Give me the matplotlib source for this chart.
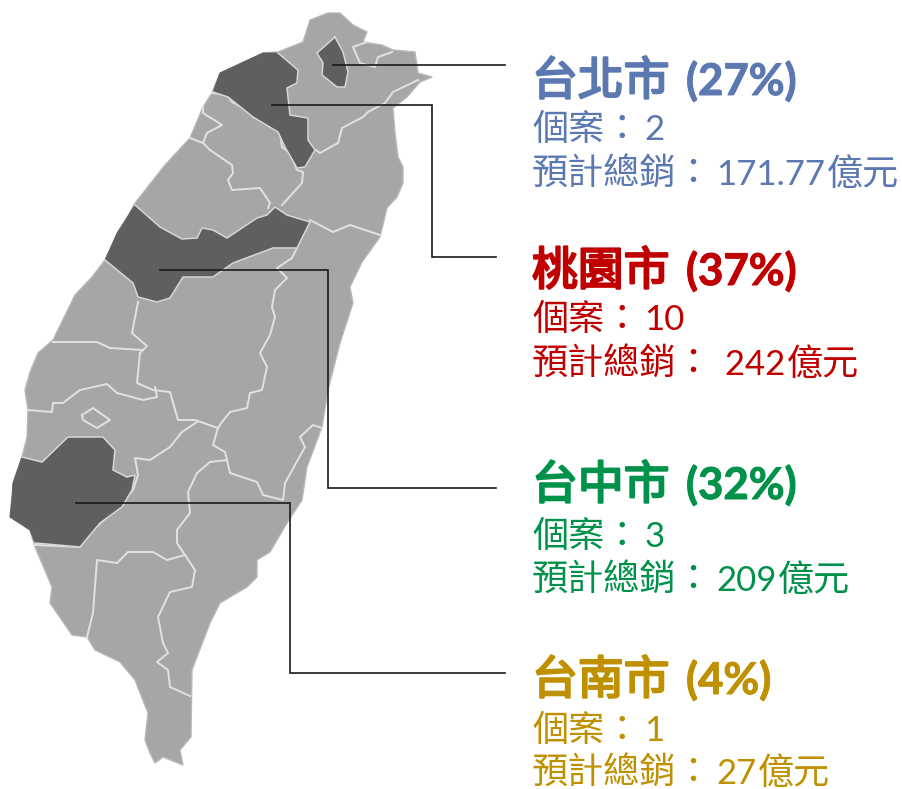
import matplotlib
matplotlib.use("Agg")
import matplotlib.pyplot as plt
import matplotlib.patheffects as pe
from matplotlib.patches import Polygon

plt.rcParams['font.family'] = ['Lato', 'Noto Sans CJK TC', 'DejaVu Sans']

cities = ['台北市', '桃園市', '台中市', '台南市']
shares = [27, 37, 32, 4]
cases = ['2', '10', '3', '1']
sales = ['171.77', ' 242', '209', '27']
text_colors = ['#5B79B0', '#C00000', '#00914A', '#BF9000']
title_y = [95, 285, 499, 694]
case_y = [140, 330, 547, 741]
sale_y = [185, 375, 591, 784]

island = [(310,20),(328,13),(340,13),(353,25),(367,32),(363,42),(382,45),(393,50),(415,52),(418,73),(432,77),
          (420,82),(407,97),(393,108),(395,133),(398,157),(403,167),(403,183),(397,197),(387,208),(380,237),
          (362,262),(350,287),(353,303),(340,343),(328,390),(322,427),(307,467),(302,500),(287,523),(270,552),
          (257,560),(257,577),(247,587),(220,603),(210,623),(192,670),(191,737),(180,750),(183,765),(163,757),
          (155,763),(150,753),(145,740),(148,713),(135,680),(120,662),(95,650),(87,637),(72,635),(50,603),
          (52,587),(35,547),(30,530),(10,517),(12,497),(13,483),(22,457),(27,437),(28,410),(25,390),(30,372),
          (38,353),(53,340),(75,295),(92,277),(105,260),(135,203),(165,165),(190,138),(203,107),(212,93),
          (220,73),(263,53),(278,52),(303,42)]
taipei = [(335,37),(343,52),(347,68),(348,72),(345,87),(337,87),(322,75),(323,63),(317,53)]
taoyuan = [(278,53),(298,70),(297,83),(287,88),(290,115),(308,118),(308,140),
           (315,150),(305,167),(297,168),(285,147),(278,132),(253,117),(228,97),(213,92),(220,73),(263,53)]
taichung = [(135,205),(160,227),(182,239),(197,238),(202,228),(213,230),(227,238),(257,218),(267,215),(275,207),
            (287,215),(310,222),(297,248),(273,248),(233,263),(213,277),(183,277),(170,298),(157,302),(138,297),
            (133,283),(105,260),(117,233)]
tainan = [(22,457),(42,462),(68,437),(103,437),(115,450),(113,470),(127,477),(135,475),(132,490),(122,507),(100,523),(80,547),
          (35,543),(30,530),(10,517),(12,497),(13,483)]
interior_counts = [10, 15, 22, 13]
borders = [
    [(212,93),(227,95),(232,102),(250,112),(253,117),(270,123),(280,133),(282,147),(290,153),(297,170),(303,172),(302,183),(282,205)],
    [(316,150),(320,153),(338,143),(342,128),(363,117),(368,112),(385,103),(393,92),(418,80)],
    [(367,42),(353,47),(360,63),(375,67),(378,57),(392,52)],
    [(203,107),(203,113),(222,125),(207,133),(203,143),(190,138)],
    [(203,143),(210,150),(232,165),(233,173),(228,180),(232,190),(260,188),(270,203),(268,208)],
    [(310,220),(333,232),(350,225),(380,235)],
    [(297,248),(292,258),(277,268),(287,278),(275,290),(272,307),(275,317),(270,335),(260,353),(267,367),(262,390),
     (250,393),(247,408),(230,412),(222,422),(218,428)],
    [(138,302),(132,333),(147,346),(140,353),(137,383),(153,390),(170,392),(178,420),(195,420),(218,428)],
    [(53,342),(97,342),(110,348),(143,350)],
    [(28,410),(52,412),(53,403),(63,403),(80,390),(107,384),(117,393),(143,400),(157,397),(155,387)],
    [(82,415),(93,408),(110,420),(97,428),(83,420),(82,415)],
    [(197,422),(182,432),(170,447),(150,460),(135,458),(138,475),(133,490),(113,512),(93,530),(80,547)],
    [(218,428),(213,445),(225,452),(227,460),(210,462),(197,473),(188,492),(190,513),(177,530),(177,543),(185,555),
     (195,570),(192,587),(170,592),(158,617),(163,643),(168,653),(157,662),(168,670),(170,687),(190,696)],
    [(87,637),(93,613),(97,560),(117,563),(128,552),(153,552),(167,560),(185,555)],
    [(227,460),(230,473),(257,482),(263,495),(283,500),(285,483),(305,447),(300,437),(313,425),(322,428)],
    [(35,545),(80,547)],
]
leaders = [
    [(333,65),(505,65)],
    [(272,105),(432,105),(432,257),(496,257)],
    [(160,270),(328,270),(328,488),(496,488)],
    [(76,503),(290,503),(290,673),(505,673)],
]

fig = plt.figure(figsize=(9.02, 7.89), dpi=100, facecolor='white')
ax = fig.add_axes([0, 0, 1, 1])
ax.set_xlim(0, 902)
ax.set_ylim(789, 0)
ax.axis('off')

ax.add_patch(Polygon(island, closed=True, fc='#A6A6A6', ec='#B8B8B8', lw=1.0, joinstyle='round'))
for b in borders:
    xs, ys = zip(*b)
    ax.plot(xs, ys, color='#E2E2E2', lw=1.4, solid_joinstyle='round')
for region, n in zip((taipei, taoyuan, taichung, tainan), interior_counts):
    ax.add_patch(Polygon(region, closed=True, fc='#5F5F5F', ec='#5F5F5F', lw=0.6, joinstyle='round', zorder=3))
    xs, ys = zip(*(region + region[:1] if region is taipei else region[:n]))
    ax.plot(xs, ys, color='#DADADA', lw=1.1, solid_joinstyle='round', zorder=3.5)
for line in leaders:
    xs, ys = zip(*line)
    ax.plot(xs, ys, color='#1A1A1A', lw=1.2, solid_joinstyle='miter', zorder=4)

renderer = fig.canvas.get_renderer()

def value_line(y, label, value, unit, color):
    """CJK label, then a narrower Latin value, then an optional CJK unit right after it."""
    ax.text(532, y, label, fontsize=26, color=color, va='baseline', ha='left')
    x = 532 + len(label) * 36.1 + 4
    t = ax.text(x, y, value, fontsize=25, color=color, va='baseline', ha='left')
    if unit:
        right = t.get_window_extent(renderer).x1
        ax.text(right + 1, y, unit, fontsize=26, color=color, va='baseline', ha='left')

for i, city in enumerate(cities):
    c = text_colors[i]
    ax.text(532, title_y[i], city, fontsize=33, color=c, va='baseline', ha='left',
            path_effects=[pe.withStroke(linewidth=1.6, foreground=c)])
    ax.text(686, title_y[i], f'({shares[i]}%)', fontsize=31.5, fontweight='bold', color=c,
            va='baseline', ha='left', path_effects=[pe.withStroke(linewidth=0.7, foreground=c)])
    value_line(case_y[i], '個案：', cases[i], '', c)
    value_line(sale_y[i], '預計總銷：', sales[i], '億元', c)

fig.savefig('out.png', dpi=100, facecolor='white')
